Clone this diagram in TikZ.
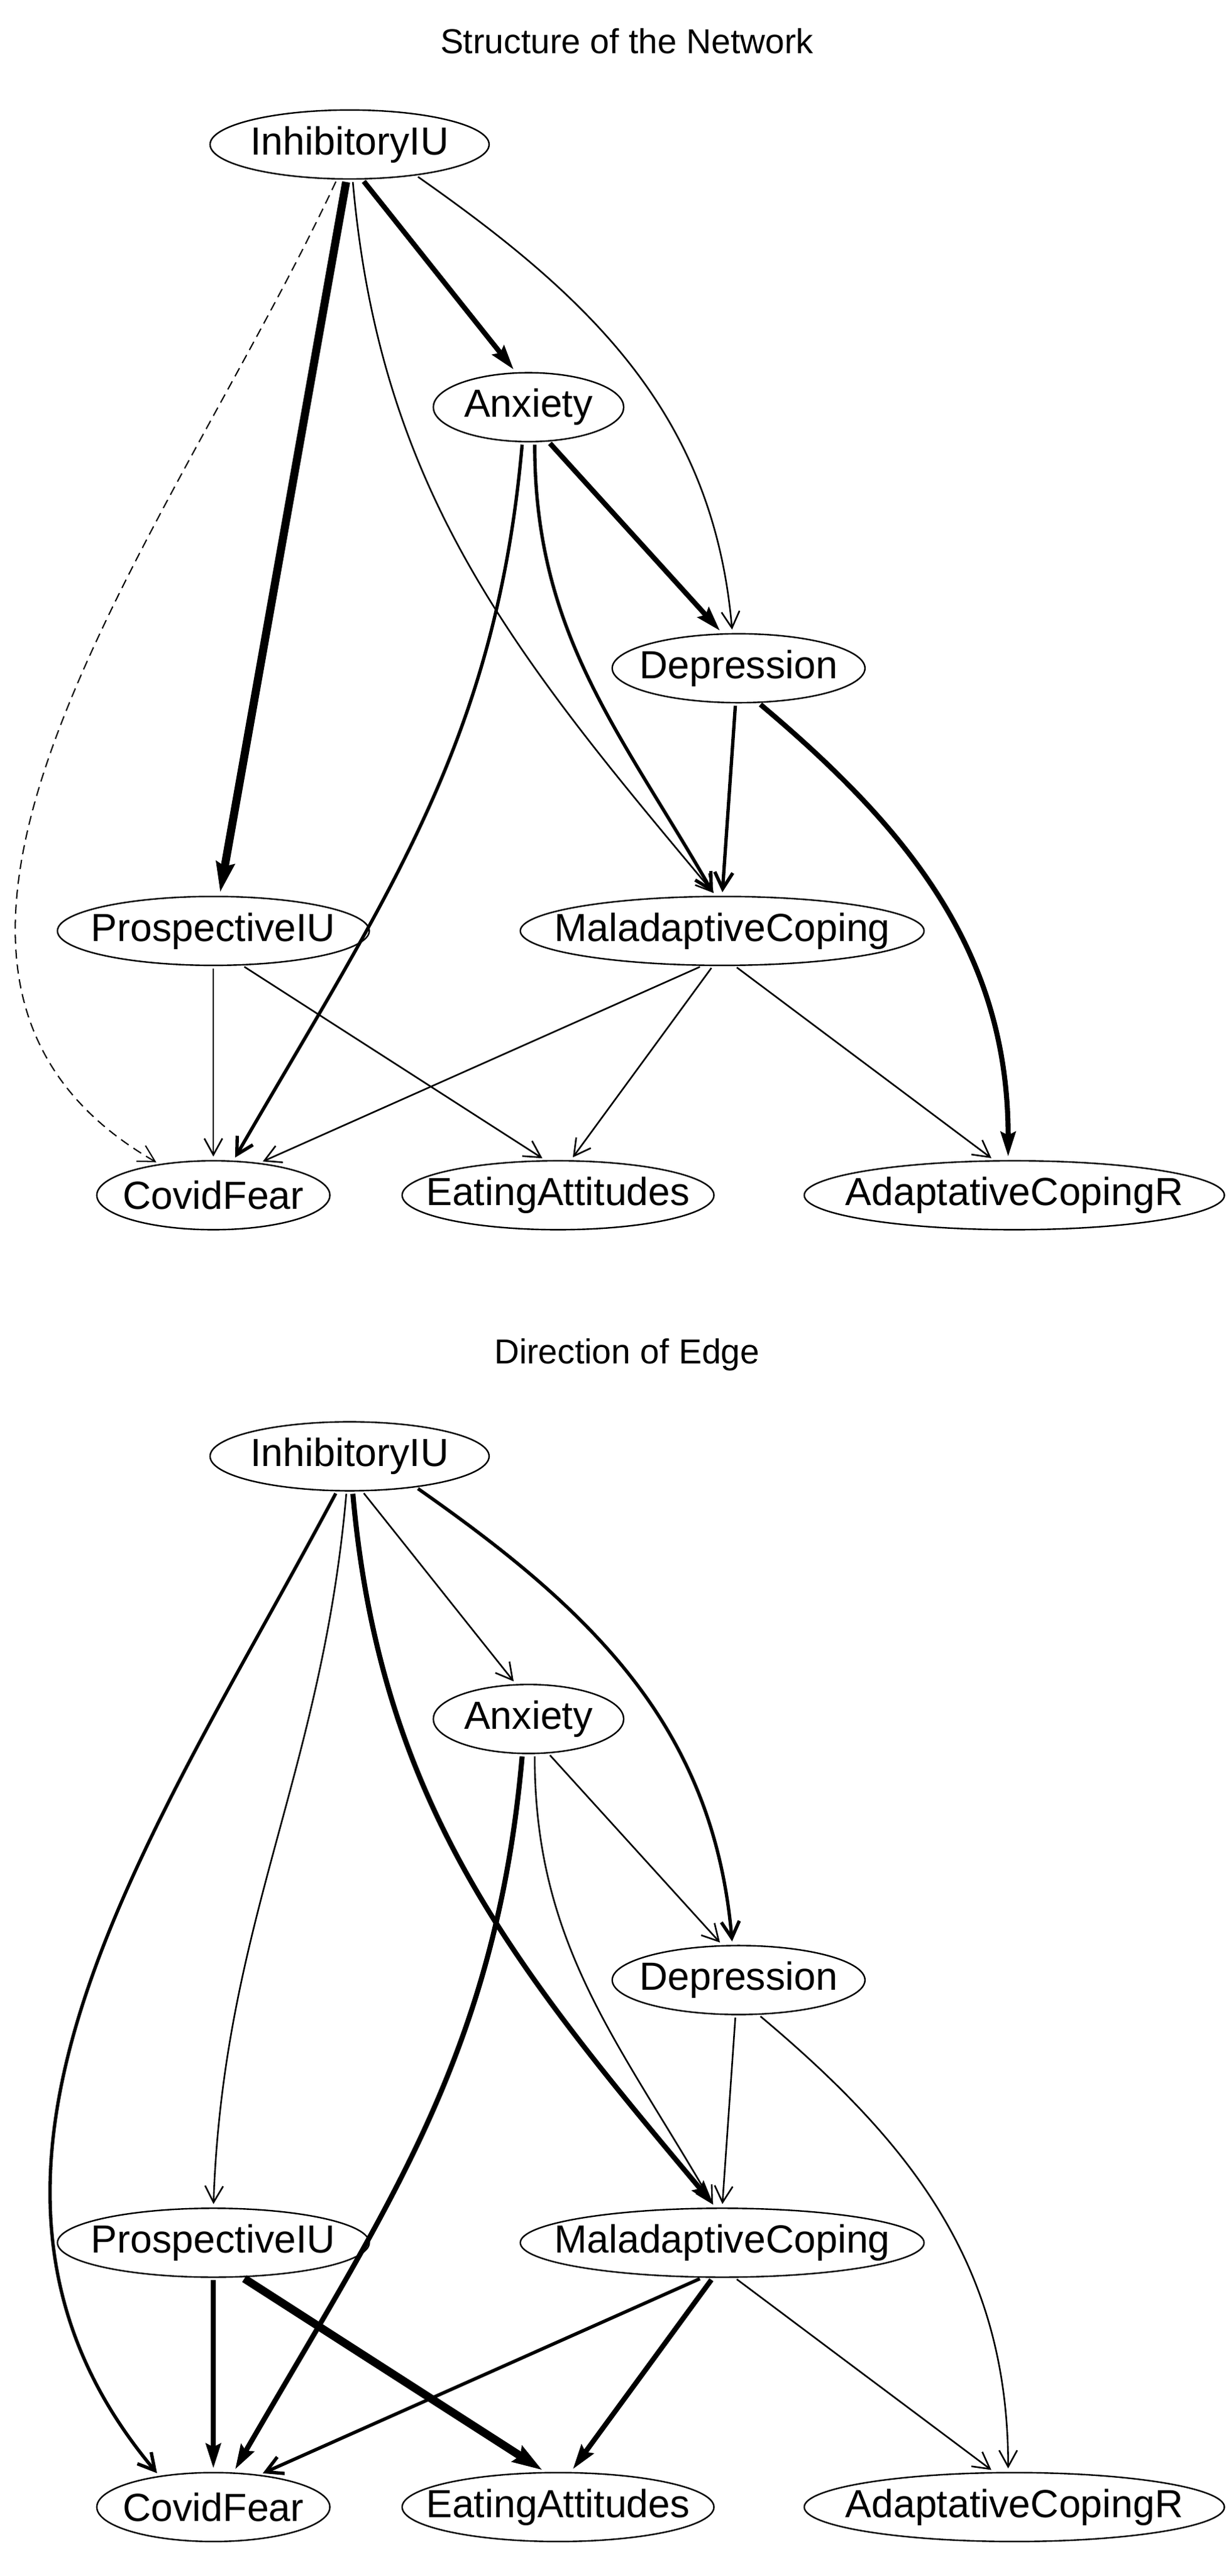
\documentclass[tikz,border=0pt]{standalone}
\usepackage{fontspec}
\setmainfont{Liberation Sans}
\usetikzlibrary{shapes.geometric,arrows.meta}
\newcommand{\nt}[1]{\makebox[0pt]{#1}}
\begin{document}
\begin{tikzpicture}[x=0.05cm,y=-0.05cm,
 nd/.style={ellipse,draw,line width=1.3pt,inner sep=0pt,minimum height=2.1cm,font=\fontsize{34}{38}\selectfont},
 ttl/.style={font=\fontsize{30}{34}\selectfont},
 e/.style={line width=#1,shorten >=3pt,shorten <=2pt,-{Straight Barb[length=0.5cm,width=0.55cm,line width=#1]}},
 t1/.style={e=1.4pt},
 t2/.style={e=2.9pt},
 t3/.style={e=4.4pt,-{Stealth[length=0.75cm,width=0.45cm,inset=0.1cm]}},
 t4/.style={e=7pt,-{Stealth[length=0.9cm,width=0.55cm,inset=0.1cm]}},
 ds/.style={e=1.1pt,dash pattern=on 8pt off 5pt}]
\useasboundingbox (0,0) rectangle (750,1569);
% ---------- top panel ----------
\node[ttl] (T1) at (382,25) {Structure of the Network};
\node[nd,minimum width=8.5cm] (i1) at (213,88) {\nt{InhibitoryIU}};
\node[nd,minimum width=5.8cm] (a1) at (322,248) {\nt{Anxiety}};
\node[nd,minimum width=7.7cm] (d1) at (450,407) {\nt{Depression}};
\node[nd,minimum width=9.5cm] (p1) at (130,567) {\nt{ProspectiveIU}};
\node[nd,minimum width=12.3cm] (m1) at (440,567) {\nt{MaladaptiveCoping}};
\node[nd,minimum width=7.1cm] (c1) at (130,728) {\nt{CovidFear}};
\node[nd,minimum width=9.5cm] (f1) at (340,728) {\nt{EatingAttitudes}};
\node[nd,minimum width=12.8cm] (r1) at (618,728) {\nt{AdaptativeCopingR}};
\draw[t3] (i1.-70) -- (a1.110);
\draw[t1] (i1.-25) to[out=-35,in=95] (d1.100);
\draw[t4] (i1.-95) -- (p1.80);
\draw[ds] (i1.-110) to[out=-115,in=150] (c1.150);
\draw[t1] (i1.-85) to[out=-85,in=130] (m1.100);
\draw[t3] (a1.-60) -- (d1.115);
\draw[t2] (a1.-80) to[out=-90,in=120] (m1.102);
\draw[t2] (a1.-100) to[out=-95,in=60] (c1.60);
\draw[t2] (d1.-95) -- (m1.90);
\draw[t3] (d1.-60) to[out=-40,in=90] (r1.100);
\draw[t1] (p1.-90) -- (c1.90);
\draw[t1] (p1.-50) -- (f1.110);
\draw[t1] (m1.-120) -- (c1.35);
\draw[t1] (m1.-105) -- (f1.70);
\draw[t1] (m1.-70) -- (r1.120);
% ---------- bottom panel ----------
\node[ttl] (T2) at (382,825) {Direction of Edge};
\node[nd,minimum width=8.5cm] (i2) at (213,887) {\nt{InhibitoryIU}};
\node[nd,minimum width=5.8cm] (a2) at (322,1047) {\nt{Anxiety}};
\node[nd,minimum width=7.7cm] (d2) at (450,1206) {\nt{Depression}};
\node[nd,minimum width=9.5cm] (p2) at (130,1366) {\nt{ProspectiveIU}};
\node[nd,minimum width=12.3cm] (m2) at (440,1366) {\nt{MaladaptiveCoping}};
\node[nd,minimum width=7.1cm] (c2) at (130,1527) {\nt{CovidFear}};
\node[nd,minimum width=9.5cm] (f2) at (340,1527) {\nt{EatingAttitudes}};
\node[nd,minimum width=12.8cm] (r2) at (618,1527) {\nt{AdaptativeCopingR}};
\draw[t1] (i2.-70) -- (a2.110);
\draw[t2] (i2.-25) to[out=-35,in=95] (d2.100);
\draw[t1] (i2.-95) to[out=-95,in=88] (p2.90);
\draw[t2] (i2.-110) to[out=-118,in=130] (c2.150);
\draw[t3] (i2.-85) to[out=-85,in=130] (m2.100);
\draw[t1] (a2.-60) -- (d2.115);
\draw[t1] (a2.-80) to[out=-90,in=120] (m2.102);
\draw[t3] (a2.-100) to[out=-95,in=60] (c2.60);
\draw[t1] (d2.-95) -- (m2.90);
\draw[t1] (d2.-60) to[out=-40,in=90] (r2.100);
\draw[t3] (p2.-90) -- (c2.90);
\draw[t4] (p2.-50) -- (f2.110);
\draw[t2] (m2.-120) -- (c2.35);
\draw[t3] (m2.-105) -- (f2.70);
\draw[t1] (m2.-70) -- (r2.120);
\end{tikzpicture}
\end{document}
